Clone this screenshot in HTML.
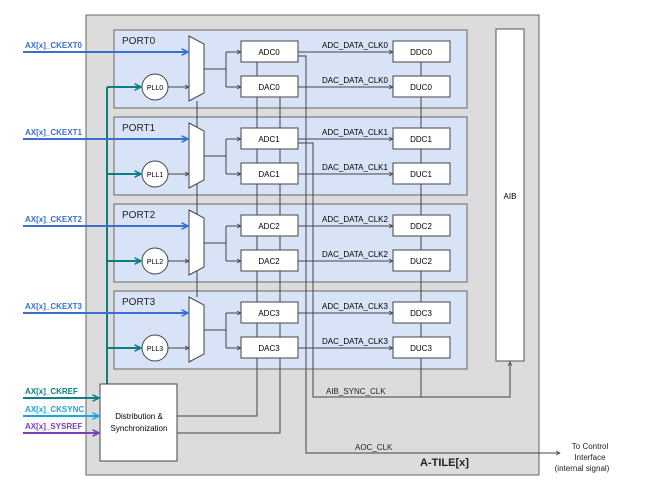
<!DOCTYPE html>
<html><head><meta charset="utf-8"><style>
body{margin:0;background:#fff}
svg{display:block}
text{font-family:"Liberation Sans",sans-serif}
</style></head><body>
<svg width="645" height="490" viewBox="0 0 645 490" xmlns="http://www.w3.org/2000/svg">
<defs>
<marker id="a" viewBox="0 0 10 10" refX="9" refY="5" markerWidth="5" markerHeight="5" orient="auto"><path d="M1,1 L9,5 L1,9" fill="none" stroke="#444" stroke-width="1.5"/></marker>
<marker id="ab" viewBox="0 0 10 10" refX="9" refY="5" markerWidth="4" markerHeight="4" orient="auto"><path d="M1,1 L9,5 L1,9" fill="none" stroke="#3a6fd0" stroke-width="2"/></marker>
<marker id="at" viewBox="0 0 10 10" refX="9" refY="5" markerWidth="4" markerHeight="4" orient="auto"><path d="M1,1 L9,5 L1,9" fill="none" stroke="#0f7d85" stroke-width="2"/></marker>
<marker id="ac" viewBox="0 0 10 10" refX="9" refY="5" markerWidth="4" markerHeight="4" orient="auto"><path d="M1,1 L9,5 L1,9" fill="none" stroke="#1aa6e0" stroke-width="2"/></marker>
<marker id="ap" viewBox="0 0 10 10" refX="9" refY="5" markerWidth="4" markerHeight="4" orient="auto"><path d="M1,1 L9,5 L1,9" fill="none" stroke="#7a3fb0" stroke-width="2"/></marker>
</defs>
<rect x="86" y="15" width="453" height="460" fill="#dcdcdc" stroke="#666"/>
<!-- port backgrounds -->
<g fill="#d9e3f7" stroke="#666">
<rect x="114" y="30" width="353" height="78"/>
<rect x="114" y="117" width="353" height="78"/>
<rect x="114" y="204" width="353" height="78"/>
<rect x="114" y="291" width="353" height="78"/>
</g>
<g font-size="10" fill="#222">
<text x="122" y="44">PORT0</text><text x="122" y="131">PORT1</text><text x="122" y="218">PORT2</text><text x="122" y="305">PORT3</text>
</g>
<rect x="496" y="29" width="28" height="332" fill="#fff" stroke="#555"/>
<text x="510" y="199" text-anchor="middle" font-size="8">AIB</text>
<!-- background verticals -->
<g fill="none" stroke="#444">
<line x1="197" y1="101" x2="197" y2="297"/>
<path d="M177,416 H257 V62"/>
<path d="M177,433 H280 V97"/>
<path d="M298,56 H306 V453 H560" marker-end="url(#a)"/>
<path d="M298,143 H313 V397 H510 V362" marker-end="url(#a)"/>
<line x1="421" y1="397" x2="421" y2="62"/>
</g>
<line x1="107" y1="87" x2="107" y2="384" stroke="#0f7d85" stroke-width="2"/>
<g font-size="8" fill="#222">
<text x="326" y="394">AIB_SYNC_CLK</text>
<text x="355" y="450">AOC_CLK</text>
<text x="590" y="449" text-anchor="middle">To Control</text>
<text x="590" y="460" text-anchor="middle">Interface</text>
<text x="582" y="471" text-anchor="middle">(internal signal)</text>
</g>
<text x="420" y="466" font-size="11" font-weight="bold" fill="#222">A-TILE[x]</text>
<!-- dist box -->
<rect x="100" y="384" width="77" height="77" fill="#fff" stroke="#444"/>
<text x="139" y="419" text-anchor="middle" font-size="8">Distribution &amp;</text>
<text x="139" y="431" text-anchor="middle" font-size="8">Synchronization</text>
<line x1="23" y1="398" x2="99" y2="398" stroke="#0f7d85" stroke-width="2" marker-end="url(#at)"/>
<line x1="23" y1="416" x2="99" y2="416" stroke="#1aa6e0" stroke-width="2" marker-end="url(#ac)"/>
<line x1="23" y1="433" x2="99" y2="433" stroke="#7a3fb0" stroke-width="2" marker-end="url(#ap)"/>
<g font-size="8" font-weight="bold">
<text x="25" y="394" fill="#0f7d85">AX[x]_CKREF</text>
<text x="25" y="412" fill="#1aa6e0">AX[x]_CKSYNC</text>
<text x="25" y="429" fill="#7a3fb0">AX[x]_SYSREF</text>
</g>
<g id="p0" font-size="8">
<text x="25" y="48" font-weight="bold" fill="#3a6fd0">AX[x]_CKEXT0</text>
<path d="M189,36 L204,44 L204,93 L189,101 Z" fill="#fff" stroke="#444"/>
<circle cx="155" cy="87" r="13" fill="#fff" stroke="#444"/>
<text x="155" y="90" text-anchor="middle" font-size="7">PLL0</text>
<line x1="168" y1="87" x2="189" y2="87" stroke="#444" marker-end="url(#a)"/>
<line x1="23" y1="52" x2="188" y2="52" stroke="#3a6fd0" stroke-width="2" marker-end="url(#ab)"/>
<line x1="107" y1="87" x2="141" y2="87" stroke="#0f7d85" stroke-width="2" marker-end="url(#at)"/>
<path d="M204,69 H226 M226,52 V87" fill="none" stroke="#444"/>
<line x1="226" y1="52" x2="241" y2="52" stroke="#444" marker-end="url(#a)"/>
<line x1="226" y1="87" x2="241" y2="87" stroke="#444" marker-end="url(#a)"/>
<rect x="241" y="41" width="57" height="21" fill="#fff" stroke="#444"/>
<rect x="241" y="76" width="57" height="21" fill="#fff" stroke="#444"/>
<text x="269" y="55" text-anchor="middle">ADC0</text>
<text x="269" y="90" text-anchor="middle">DAC0</text>
<line x1="298" y1="52" x2="393" y2="52" stroke="#444" marker-end="url(#a)"/>
<line x1="298" y1="87" x2="393" y2="87" stroke="#444" marker-end="url(#a)"/>
<text x="322" y="48">ADC_DATA_CLK0</text>
<text x="322" y="83">DAC_DATA_CLK0</text>
<rect x="393" y="41" width="57" height="21" fill="#fff" stroke="#444"/>
<rect x="393" y="76" width="57" height="21" fill="#fff" stroke="#444"/>
<text x="421" y="55" text-anchor="middle">DDC0</text>
<text x="421" y="90" text-anchor="middle">DUC0</text>
</g>
<g font-size="8" transform="translate(0,87)">
<text x="25" y="48" font-weight="bold" fill="#3a6fd0">AX[x]_CKEXT1</text>
<path d="M189,36 L204,44 L204,93 L189,101 Z" fill="#fff" stroke="#444"/>
<circle cx="155" cy="87" r="13" fill="#fff" stroke="#444"/>
<text x="155" y="90" text-anchor="middle" font-size="7">PLL1</text>
<line x1="168" y1="87" x2="189" y2="87" stroke="#444" marker-end="url(#a)"/>
<line x1="23" y1="52" x2="188" y2="52" stroke="#3a6fd0" stroke-width="2" marker-end="url(#ab)"/>
<line x1="107" y1="87" x2="141" y2="87" stroke="#0f7d85" stroke-width="2" marker-end="url(#at)"/>
<path d="M204,69 H226 M226,52 V87" fill="none" stroke="#444"/>
<line x1="226" y1="52" x2="241" y2="52" stroke="#444" marker-end="url(#a)"/>
<line x1="226" y1="87" x2="241" y2="87" stroke="#444" marker-end="url(#a)"/>
<rect x="241" y="41" width="57" height="21" fill="#fff" stroke="#444"/>
<rect x="241" y="76" width="57" height="21" fill="#fff" stroke="#444"/>
<text x="269" y="55" text-anchor="middle">ADC1</text>
<text x="269" y="90" text-anchor="middle">DAC1</text>
<line x1="298" y1="52" x2="393" y2="52" stroke="#444" marker-end="url(#a)"/>
<line x1="298" y1="87" x2="393" y2="87" stroke="#444" marker-end="url(#a)"/>
<text x="322" y="48">ADC_DATA_CLK1</text>
<text x="322" y="83">DAC_DATA_CLK1</text>
<rect x="393" y="41" width="57" height="21" fill="#fff" stroke="#444"/>
<rect x="393" y="76" width="57" height="21" fill="#fff" stroke="#444"/>
<text x="421" y="55" text-anchor="middle">DDC1</text>
<text x="421" y="90" text-anchor="middle">DUC1</text>
</g>
<g font-size="8" transform="translate(0,174)">
<text x="25" y="48" font-weight="bold" fill="#3a6fd0">AX[x]_CKEXT2</text>
<path d="M189,36 L204,44 L204,93 L189,101 Z" fill="#fff" stroke="#444"/>
<circle cx="155" cy="87" r="13" fill="#fff" stroke="#444"/>
<text x="155" y="90" text-anchor="middle" font-size="7">PLL2</text>
<line x1="168" y1="87" x2="189" y2="87" stroke="#444" marker-end="url(#a)"/>
<line x1="23" y1="52" x2="188" y2="52" stroke="#3a6fd0" stroke-width="2" marker-end="url(#ab)"/>
<line x1="107" y1="87" x2="141" y2="87" stroke="#0f7d85" stroke-width="2" marker-end="url(#at)"/>
<path d="M204,69 H226 M226,52 V87" fill="none" stroke="#444"/>
<line x1="226" y1="52" x2="241" y2="52" stroke="#444" marker-end="url(#a)"/>
<line x1="226" y1="87" x2="241" y2="87" stroke="#444" marker-end="url(#a)"/>
<rect x="241" y="41" width="57" height="21" fill="#fff" stroke="#444"/>
<rect x="241" y="76" width="57" height="21" fill="#fff" stroke="#444"/>
<text x="269" y="55" text-anchor="middle">ADC2</text>
<text x="269" y="90" text-anchor="middle">DAC2</text>
<line x1="298" y1="52" x2="393" y2="52" stroke="#444" marker-end="url(#a)"/>
<line x1="298" y1="87" x2="393" y2="87" stroke="#444" marker-end="url(#a)"/>
<text x="322" y="48">ADC_DATA_CLK2</text>
<text x="322" y="83">DAC_DATA_CLK2</text>
<rect x="393" y="41" width="57" height="21" fill="#fff" stroke="#444"/>
<rect x="393" y="76" width="57" height="21" fill="#fff" stroke="#444"/>
<text x="421" y="55" text-anchor="middle">DDC2</text>
<text x="421" y="90" text-anchor="middle">DUC2</text>
</g>
<g font-size="8" transform="translate(0,261)">
<text x="25" y="48" font-weight="bold" fill="#3a6fd0">AX[x]_CKEXT3</text>
<path d="M189,36 L204,44 L204,93 L189,101 Z" fill="#fff" stroke="#444"/>
<circle cx="155" cy="87" r="13" fill="#fff" stroke="#444"/>
<text x="155" y="90" text-anchor="middle" font-size="7">PLL3</text>
<line x1="168" y1="87" x2="189" y2="87" stroke="#444" marker-end="url(#a)"/>
<line x1="23" y1="52" x2="188" y2="52" stroke="#3a6fd0" stroke-width="2" marker-end="url(#ab)"/>
<line x1="107" y1="87" x2="141" y2="87" stroke="#0f7d85" stroke-width="2" marker-end="url(#at)"/>
<path d="M204,69 H226 M226,52 V87" fill="none" stroke="#444"/>
<line x1="226" y1="52" x2="241" y2="52" stroke="#444" marker-end="url(#a)"/>
<line x1="226" y1="87" x2="241" y2="87" stroke="#444" marker-end="url(#a)"/>
<rect x="241" y="41" width="57" height="21" fill="#fff" stroke="#444"/>
<rect x="241" y="76" width="57" height="21" fill="#fff" stroke="#444"/>
<text x="269" y="55" text-anchor="middle">ADC3</text>
<text x="269" y="90" text-anchor="middle">DAC3</text>
<line x1="298" y1="52" x2="393" y2="52" stroke="#444" marker-end="url(#a)"/>
<line x1="298" y1="87" x2="393" y2="87" stroke="#444" marker-end="url(#a)"/>
<text x="322" y="48">ADC_DATA_CLK3</text>
<text x="322" y="83">DAC_DATA_CLK3</text>
<rect x="393" y="41" width="57" height="21" fill="#fff" stroke="#444"/>
<rect x="393" y="76" width="57" height="21" fill="#fff" stroke="#444"/>
<text x="421" y="55" text-anchor="middle">DDC3</text>
<text x="421" y="90" text-anchor="middle">DUC3</text>
</g>
</svg>
</body></html>
